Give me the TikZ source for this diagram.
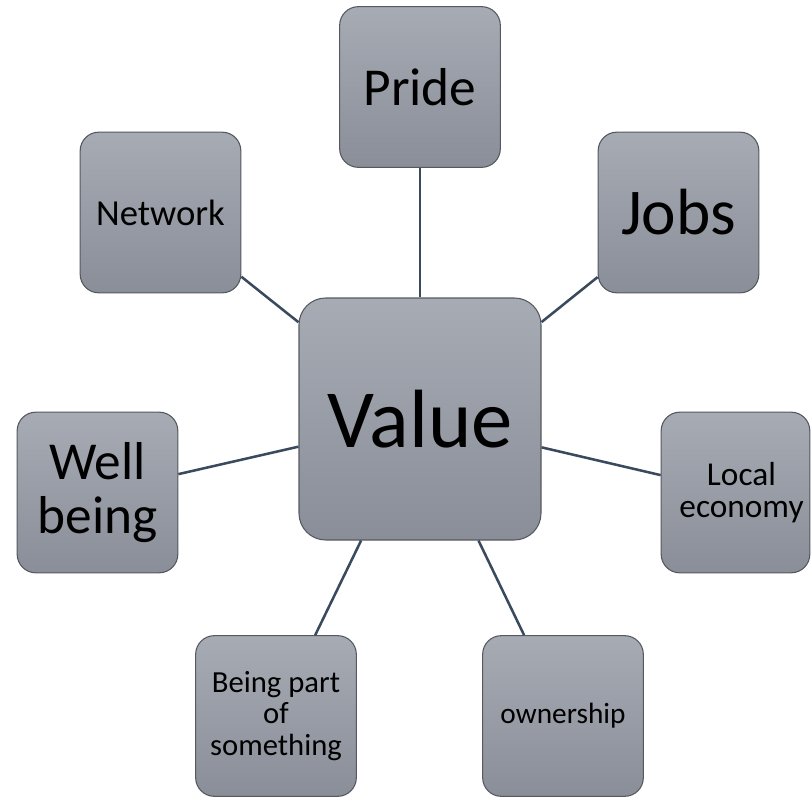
\documentclass[tikz,border=0pt]{standalone}
\usepackage{fontspec}
\setmainfont{Carlito}
\definecolor{boxtop}{HTML}{A7ABB4}
\definecolor{boxbot}{HTML}{8A8E98}
\definecolor{boxline}{HTML}{55595F}
\definecolor{conn}{HTML}{3A4A5E}
\tikzset{
  bx/.style={draw=boxline, line width=0.8pt, top color=boxtop, bottom color=boxbot,
    rounded corners=14pt, minimum width=120.5pt, minimum height=120.5pt,
    inner sep=2pt, align=center, text=black},
  bigbx/.style={bx, rounded corners=20pt, minimum width=181.5pt, minimum height=181.5pt},
  link/.style={draw=conn, line width=1.9pt}
}
\begin{document}
\begin{tikzpicture}[x=0.75pt, y=-0.75pt]
\useasboundingbox (0,0) rectangle (811,799);
\node[bigbx, font=\fontsize{62}{64}\selectfont] (value) at (420,419) {Value};
\node[bx, font=\fontsize{40}{42}\selectfont] (pride) at (420,87) {Pride};
\node[bx, font=\fontsize{49}{51}\selectfont] (jobs) at (678.5,212.5) {Jobs};
\node[bx, font=\fontsize{27.5}{29}\selectfont] (network) at (160.5,212.5) {Network};
\node[bx, font=\fontsize{40}{41}\selectfont] (well) at (97.5,492.5) {Well\\being};
\node[bx, minimum width=111.5pt, font=\fontsize{25}{24.5}\selectfont] (local) at (735.5,492.5) {\hspace*{9pt}Local\\\hspace*{9pt}economy};
\node[bx, font=\fontsize{23}{23.5}\selectfont] (being) at (276,716) {Being part\\of\\something};
\node[bx, font=\fontsize{22}{24}\selectfont] (owner) at (563,716) {ownership};
\draw[link] (value) -- (pride);
\draw[link] (value) -- (jobs);
\draw[link] (value) -- (network);
\draw[link] (value) -- (well);
\draw[link] (value) -- (local);
\draw[link] (value) -- (being);
\draw[link] (value) -- (owner);
\end{tikzpicture}
\end{document}
